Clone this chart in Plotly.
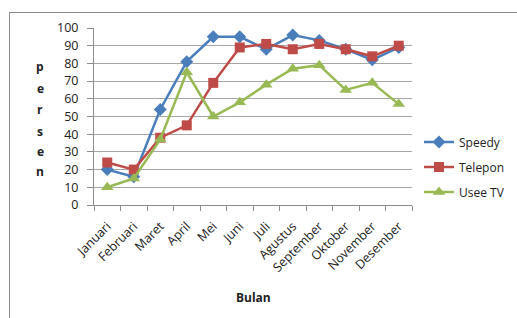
import plotly.graph_objects as go

months = ["Januari", "Februari", "Maret", "April", "Mei", "Juni", "Juli",
          "Agustus", "September", "Oktober", "November", "Desember"]
speedy = [20, 16, 54, 81, 95, 95, 88, 96, 93, 88, 82, 89]
telepon = [24, 20, 38, 45, 69, 89, 91, 88, 91, 88, 84, 90]
useetv = [10, 15, 37, 75, 50, 58, 68, 77, 79, 65, 69, 57]
yticks = list(range(0, 101, 10))

FONT = "Open Sans, Liberation Sans, sans-serif"
W, H = 517, 318
L, R, T, B = 94, 105, 28, 113
pw, ph = W - L - R, H - T - B

fig = go.Figure()
series = [
    ("Speedy", speedy, "#4A7EBB", "diamond", 10),
    ("Telepon", telepon, "#BE4B48", "square", 10),
    ("Usee TV", useetv, "#98B954", "triangle-up", 11),
]
for i, (name, vals, col, sym, sz) in enumerate(series):
    fig.add_trace(go.Scatter(
        x=months, y=vals, name=name, mode="lines+markers",
        line=dict(color=col, width=2.5),
        marker=dict(symbol=sym, size=sz, color=col),
        legendgroup=str(i),
    ))

def px2x(px):
    return (px - L) / pw

def px2y(py):
    return (H - B - py) / ph

shapes = [
    dict(type="line", xref="paper", yref="paper", x0=px2x(9.5), x1=px2x(9.5),
         y0=px2y(12), y1=px2y(330), line=dict(color="#8c8c8c", width=1)),
    dict(type="line", xref="paper", yref="paper", x0=px2x(9.5), x1=px2x(530),
         y0=px2y(12.5), y1=px2y(12.5), line=dict(color="#8c8c8c", width=1)),
]

annotations = []
ys = [66, 88, 110, 131, 151, 171]
for ch, yy in zip("persen", ys):
    annotations.append(dict(text="<b>%s</b>" % ch, xref="paper", yref="paper",
                            x=px2x(40), y=px2y(yy), showarrow=False,
                            font=dict(family=FONT, size=12, color="#222"),
                            xanchor="center", yanchor="middle"))
annotations.append(dict(text="<b>Bulan</b>", xref="paper", yref="paper",
                        x=px2x(253), y=px2y(297), showarrow=False,
                        font=dict(family=FONT, size=12, color="#222"),
                        xanchor="center", yanchor="middle"))

fig.update_layout(
    width=W, height=H,
    margin=dict(l=L, r=R, t=T, b=B, pad=0, autoexpand=False),
    paper_bgcolor="white", plot_bgcolor="white",
    font=dict(family=FONT, size=11, color="#222"),
    showlegend=True,
    legend=dict(x=px2x(419), y=px2y(167), xanchor="left", yanchor="middle",
                font=dict(family=FONT, size=12, color="#222"),
                tracegroupgap=6, itemwidth=30, bgcolor="rgba(0,0,0,0)"),
    shapes=shapes,
    annotations=annotations,
    xaxis=dict(
        type="category", range=[-0.5, 11.5], automargin=False,
        showgrid=False, showline=True, linecolor="#8c8c8c", linewidth=1,
        ticks="outside", ticklen=5, tickcolor="#8c8c8c",
        tickson="boundaries", tickangle=-45, ticklabelstandoff=8,
        tickfont=dict(family=FONT, size=12.5, color="#222"),
        zeroline=False,
    ),
    yaxis=dict(
        range=[0, 100], tickvals=yticks, automargin=False,
        showgrid=True, gridcolor="#a6a6a6", gridwidth=1,
        showline=True, linecolor="#8c8c8c", linewidth=1,
        ticks="outside", ticklen=6, tickcolor="#8c8c8c",
        ticklabelstandoff=6,
        tickfont=dict(family=FONT, size=12.5, color="#222"),
        zeroline=False,
    ),
)

fig.write_html("out.html", config={"displayModeBar": False},
               post_script="document.body.style.margin='0';document.body.style.overflow='hidden';")
